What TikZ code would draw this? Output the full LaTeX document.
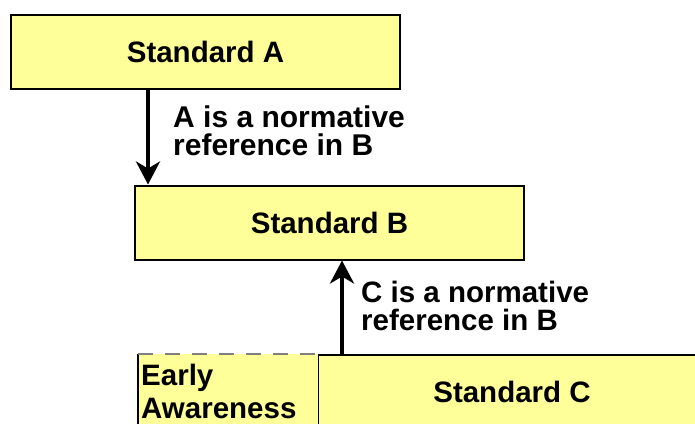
\documentclass[tikz,border=0pt]{standalone}
\usepackage{fontspec}
\setmainfont{Liberation Sans}
\usetikzlibrary{arrows.meta, positioning}
\definecolor{stdyellow}{HTML}{FFFF99}
\definecolor{dashgrey}{HTML}{7F7F7F}
\tikzstyle{standard} = [rectangle, minimum width=389pt, minimum height=74pt, text centered, draw=black, line width=2pt, fill=stdyellow, font=\fontsize{29.5}{28}\selectfont\bfseries]
\tikzstyle{note} = [align=left, inner sep=0pt, anchor=north west, font=\fontsize{29.5}{28}\selectfont\bfseries]
\tikzstyle{arrow} = [line width=4.5pt, -{Stealth[length=23pt, width=24pt, inset=7pt]}, color=black]

\begin{document}
\begin{tikzpicture}[x=1pt, y=-1pt]
    % Normative references between the standards
    \useasboundingbox (0,0) rectangle (695,423);
    \clip (0,0) rectangle (695,423);
    \node[standard] (stda) at (205.5,52) {Standard A};
    \node[standard] (stdb) at (329.5,222.5) {Standard B};
    \node[standard, minimum width=388pt] (stdc) at (512,392) {Standard C};
    \node[fill=stdyellow, text width=174pt, minimum height=74pt, anchor=north west, align=left, inner xsep=3pt, font=\fontsize{29.5}{33}\selectfont\bfseries] (early) at (138,354) {Early\\Awareness};
    \draw[line width=1.5pt] (early.south west) -- (early.north west);
    \draw[dashgrey, line width=1.5pt, dash pattern=on 15pt off 12pt] (early.north west) -- (early.north east);

    \node[note, font=\fontsize{30}{28}\selectfont\bfseries] (laba) at (173,106) {A is a normative\\reference in B};
    \node[note] (labc) at (361,281) {C is a normative\\reference in B};

    \coordinate (ashaft) at (148,0);
    \coordinate (cshaft) at (342,0);
    \draw[arrow] (stda.south -| ashaft) -- (stdb.north -| ashaft);
    \draw[arrow] (stdc.north -| cshaft) -- (stdb.south -| cshaft);
\end{tikzpicture}
\end{document}
